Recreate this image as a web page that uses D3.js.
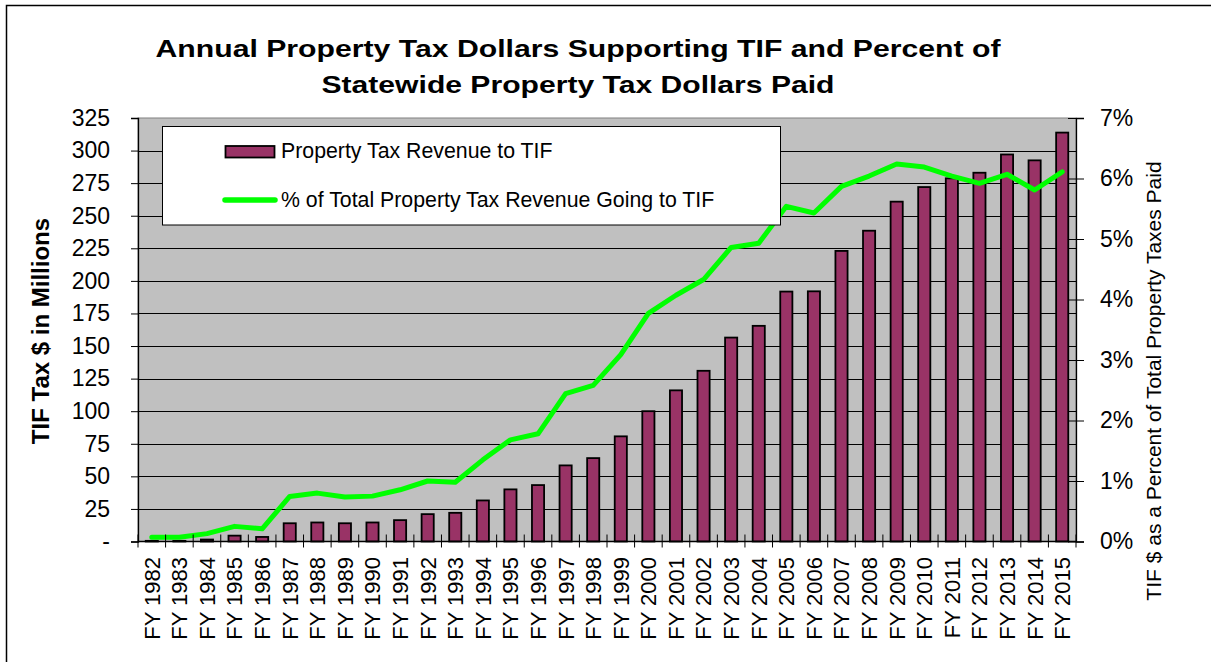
<!DOCTYPE html>
<html>
<head>
<meta charset="utf-8">
<script src="https://cdn.jsdelivr.net/npm/d3@7"></script>
<style>
  html, body { margin: 0; padding: 0; background: #fff; }
  svg { display: block; font-family: "Liberation Sans", Arial, sans-serif; }
  .axis path, .axis line { stroke: #000; }
  .axis text { fill: #000; }
</style>
</head>
<body>
<div id="chart"></div>
<script>
/* TIF property tax dollars (bars, left axis) and share of statewide
   property tax going to TIF (line, right axis). */

const YEARS = ["FY 1982","FY 1983","FY 1984","FY 1985","FY 1986","FY 1987","FY 1988",
  "FY 1989","FY 1990","FY 1991","FY 1992","FY 1993","FY 1994","FY 1995","FY 1996",
  "FY 1997","FY 1998","FY 1999","FY 2000","FY 2001","FY 2002","FY 2003","FY 2004",
  "FY 2005","FY 2006","FY 2007","FY 2008","FY 2009","FY 2010","FY 2011","FY 2012",
  "FY 2013","FY 2014","FY 2015"];

// $ millions
const TIF_REVENUE = [0.5, 0.5, 1.5, 4.5, 3.5, 14, 14.6, 14, 14.6, 16.4, 21, 22, 31.5,
  40, 43.3, 58.4, 64, 80.7, 100, 116, 131, 156.5, 165.5, 191.8, 192, 223, 238.5,
  260.8, 272, 278.7, 283, 297, 292.5, 313.8];

// share of total property tax, in %
const TIF_SHARE = [0.07, 0.07, 0.13, 0.25, 0.21, 0.745, 0.80, 0.735, 0.75, 0.855,
  1.0, 0.98, 1.35, 1.68, 1.78, 2.445, 2.58, 3.09, 3.77, 4.07, 4.33, 4.86, 4.93,
  5.54, 5.43, 5.87, 6.04, 6.24, 6.19, 6.04, 5.92, 6.07, 5.81, 6.11];

const LEFT_TICKS = d3.range(0, 326, 25);
const RIGHT_TICKS = [0, 1, 2, 3, 4, 5, 6, 7];

const TITLE = ["Annual Property Tax Dollars Supporting TIF and Percent of",
               "Statewide Property Tax Dollars Paid"];
const TITLE_WIDTH = [845, 513];   // the original title is drawn horizontally stretched
const LEGEND = ["Property Tax Revenue to TIF", "% of Total Property Tax Revenue Going to TIF"];

const W = 1211, H = 662;
const PLOT = { left: 138, right: 1076, top: 118, bottom: 541.5 };
const BAR_FILL = "#993366", LINE_COL = "#00ff00";

const svg = d3.select("#chart").append("svg")
    .attr("width", W).attr("height", H).attr("viewBox", `0 0 ${W} ${H}`);

// outer frame (only left + top edges fall inside the picture)
svg.append("rect").attr("x", 6.5).attr("y", 5.5).attr("width", W + 20).attr("height", H + 20)
    .attr("fill", "none").attr("stroke", "#000").attr("stroke-width", 1.5);

// title
svg.append("g").selectAll("text").data(TITLE).join("text")
    .attr("text-anchor", "middle").attr("font-weight", "bold").attr("font-size", 24)
    .attr("x", 578).attr("y", (d, i) => 57 + i * 35.5)
    .attr("textLength", (d, i) => TITLE_WIDTH[i]).attr("lengthAdjust", "spacingAndGlyphs")
    .text(d => d);

const x = d3.scaleBand().domain(YEARS).range([PLOT.left, PLOT.right])
    .paddingInner(0.56).paddingOuter(0.28);
const yL = d3.scaleLinear().domain([0, 325]).range([PLOT.bottom, PLOT.top]);
const yR = d3.scaleLinear().domain([0, 7]).range([PLOT.bottom, PLOT.top]);

// plot background
svg.append("rect").attr("x", PLOT.left).attr("y", PLOT.top)
    .attr("width", PLOT.right - PLOT.left).attr("height", PLOT.bottom - PLOT.top)
    .attr("fill", "#c0c0c0").attr("stroke", "#808080");

// gridlines
svg.append("g").selectAll("line").data(LEFT_TICKS.slice(1, -1)).join("line")
    .attr("x1", PLOT.left).attr("x2", PLOT.right)
    .attr("y1", d => Math.round(yL(d)) + 0.5).attr("y2", d => Math.round(yL(d)) + 0.5)
    .attr("stroke", "#000").attr("stroke-width", 1);

// bars
svg.append("g").selectAll("rect").data(YEARS).join("rect")
    .attr("x", d => x(d)).attr("width", x.bandwidth())
    .attr("y", (d, i) => yL(TIF_REVENUE[i]))
    .attr("height", (d, i) => PLOT.bottom - yL(TIF_REVENUE[i]))
    .attr("fill", BAR_FILL).attr("stroke", "#000").attr("stroke-width", 1.8);

// share line
const line = d3.line()
    .x((d, i) => x(YEARS[i]) + x.bandwidth() / 2)
    .y(d => yR(d));
svg.append("path").datum(TIF_SHARE).attr("d", line)
    .attr("fill", "none").attr("stroke", LINE_COL).attr("stroke-width", 5)
    .attr("stroke-linejoin", "round").attr("stroke-linecap", "round");

// left axis
const axL = svg.append("g").attr("class", "axis").attr("transform", `translate(${PLOT.left},0)`)
    .call(d3.axisLeft(yL).tickValues(LEFT_TICKS).tickSize(7).tickPadding(21)
      .tickFormat(d => d === 0 ? "-" : d));
axL.select(".domain").attr("stroke-width", 1.3);
axL.selectAll("text").attr("font-size", 23).attr("font-family", null);

// right axis with crossing ticks
const axR = svg.append("g").attr("class", "axis").attr("transform", `translate(${PLOT.right},0)`)
    .call(d3.axisRight(yR).tickValues(RIGHT_TICKS).tickSize(8).tickPadding(16)
      .tickFormat(d => d + "%"));
axR.select(".domain").attr("stroke-width", 1.3);
axR.selectAll(".tick line").attr("x1", -8);
axR.selectAll("text").attr("font-size", 23).attr("font-family", null);

// bottom axis: ticks between categories, crossing the axis
const bottom = svg.append("g").attr("class", "axis");
bottom.append("line").attr("x1", PLOT.left).attr("x2", PLOT.right)
    .attr("y1", PLOT.bottom).attr("y2", PLOT.bottom).attr("stroke", "#000").attr("stroke-width", 1.3);
const step = x.step();
bottom.selectAll(".sep").data(d3.range(YEARS.length + 1)).join("line").attr("class", "sep")
    .attr("x1", i => PLOT.left + i * step).attr("x2", i => PLOT.left + i * step)
    .attr("y1", PLOT.bottom - 7).attr("y2", PLOT.bottom + 6).attr("stroke", "#000");
bottom.selectAll("text").data(YEARS).join("text")
    .attr("transform", d => `translate(${x(d) + x.bandwidth() / 2},557) rotate(-90)`)
    .attr("text-anchor", "end").attr("dy", "0.36em").attr("font-size", 22).text(d => d);

// axis titles
svg.append("text").attr("transform", "translate(49,331) rotate(-90)")
    .attr("text-anchor", "middle").attr("font-weight", "bold").attr("font-size", 24)
    .text("TIF Tax $ in Millions");
svg.append("text").attr("transform", "translate(1161,381) rotate(-90)")
    .attr("text-anchor", "middle").attr("font-size", 21)
    .text("TIF $ as a Percent of Total Property Taxes Paid");

// legend
const lg = svg.append("g");
lg.append("rect").attr("x", 162.5).attr("y", 126.5).attr("width", 618).attr("height", 98.5)
    .attr("fill", "#fff").attr("stroke", "#000");
lg.append("rect").attr("x", 225.5).attr("y", 146).attr("width", 49).attr("height", 11.5)
    .attr("fill", BAR_FILL).attr("stroke", "#000").attr("stroke-width", 1.8);
lg.append("line").attr("x1", 225).attr("x2", 275).attr("y1", 200).attr("y2", 200)
    .attr("stroke", LINE_COL).attr("stroke-width", 5.5).attr("stroke-linecap", "round");
lg.selectAll("text").data(LEGEND).join("text")
    .attr("x", 281).attr("y", (d, i) => 158 + i * 49).attr("font-size", 21.3).text(d => d);
</script>
</body>
</html>
